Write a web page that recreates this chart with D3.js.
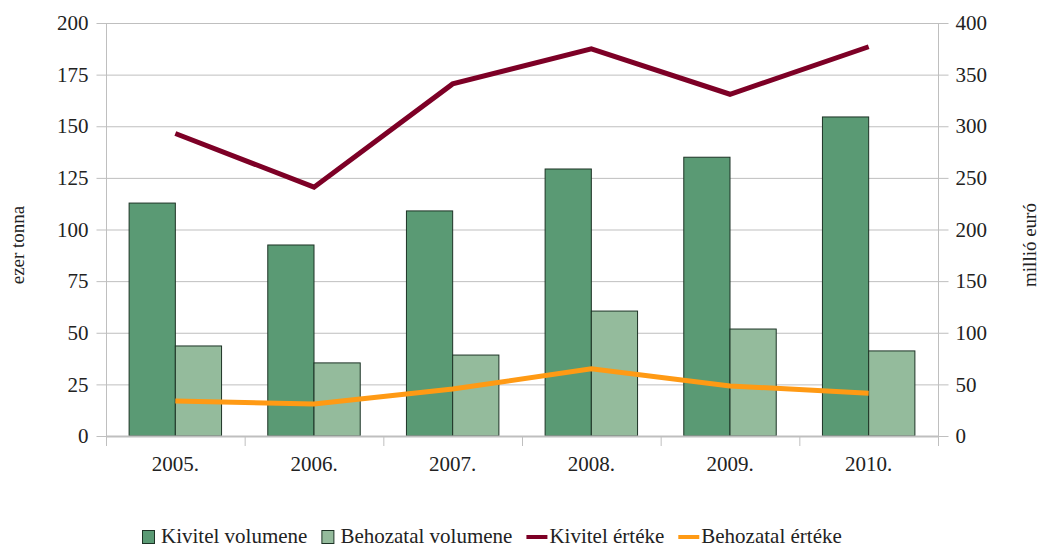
<!DOCTYPE html>
<html><head><meta charset="utf-8">
<script src="https://cdn.jsdelivr.net/npm/d3@7"></script>
<style>body{margin:0;background:#fff;}</style>
</head><body>
<svg id="c" width="1039" height="548" font-family="Liberation Serif"></svg>
<script>
const years = ["2005.","2006.","2007.","2008.","2009.","2010."];
const kivitelVolumen = [112.8, 92.5, 109, 129.3, 135, 154.5];
const behozatalVolumen = [43.6, 35.4, 39.2, 60.5, 51.8, 41.2];
const kivitelErtek = [293, 241, 341, 375, 331, 377];
const behozatalErtek = [34, 31, 45.5, 65, 48.5, 41.5];
const leftTicks = [0,25,50,75,100,125,150,175,200];
const rightTicks = [0,50,100,150,200,250,300,350,400];
const seriesNames = ["Kivitel volumene","Behozatal volumene","Kivitel értéke","Behozatal értéke"];
const colors = {kv:"#5a9a74", bv:"#94bb9c", ke:"#7d0026", be:"#ff9a14"};
const FONT = "Liberation Serif";

const svg = d3.select("#c");
const L=106, R=938, T=23, B=436;
const x = d3.scaleBand().domain(years).range([L,R]).paddingInner(0).paddingOuter(0);
const yL = d3.scaleLinear().domain([0,200]).range([B,T]);
const yR = d3.scaleLinear().domain([0,400]).range([B,T]);
const grid="#bfbfbf";

svg.append("g").selectAll("line").data(leftTicks.slice(1)).join("line")
  .attr("x1",L).attr("x2",R).attr("y1",d=>yL(d)+0.5).attr("y2",d=>yL(d)+0.5)
  .attr("stroke",grid).attr("stroke-width",1);

const gl = svg.append("g").attr("transform",`translate(${L+0.5},0)`)
  .call(d3.axisLeft(yL).tickValues(leftTicks).tickSize(10).tickPadding(8));
gl.attr("font-size",21);
gl.select(".domain").attr("stroke",grid).attr("d",`M0,${T}V${B+10}`);
gl.selectAll(".tick line").attr("stroke",grid);
gl.selectAll("text").attr("fill","#222");

const gr = svg.append("g").attr("transform",`translate(${R+0.5},0)`)
  .call(d3.axisRight(yR).tickValues(rightTicks).tickSize(10).tickPadding(7));
gr.attr("font-size",21);
gr.select(".domain").attr("stroke",grid).attr("d",`M0,${T}V${B+10}`);
gr.selectAll(".tick line").attr("stroke",grid);
gr.selectAll("text").attr("fill","#222");

const bw = x.bandwidth()/3;
const g = svg.append("g");
g.selectAll("rect.kv").data(years).join("rect").attr("class","kv")
  .attr("x",(d)=>x(d)+bw/2).attr("width",bw)
  .attr("y",(d,i)=>yL(kivitelVolumen[i])).attr("height",(d,i)=>B-yL(kivitelVolumen[i]))
  .attr("fill",colors.kv).attr("stroke","#1d3326").attr("stroke-width",1);
g.selectAll("rect.bv").data(years).join("rect").attr("class","bv")
  .attr("x",(d)=>x(d)+bw/2+bw).attr("width",bw)
  .attr("y",(d,i)=>yL(behozatalVolumen[i])).attr("height",(d,i)=>B-yL(behozatalVolumen[i]))
  .attr("fill",colors.bv).attr("stroke","#1d3326").attr("stroke-width",1);

const gx = svg.append("g").attr("transform",`translate(0,${B+0.5})`)
  .call(d3.axisBottom(x).tickSize(0).tickPadding(20));
gx.attr("font-size",21);
gx.select(".domain").attr("stroke",grid).attr("stroke-width",2).attr("d",`M${L},0H${R}`);
gx.selectAll("text").attr("fill","#222");
svg.append("g").selectAll("line").data(years.slice(1)).join("line")
  .attr("x1",d=>x(d)+0.5).attr("x2",d=>x(d)+0.5).attr("y1",B).attr("y2",B+10)
  .attr("stroke",grid);

const cx = d=>x(d)+x.bandwidth()/2;
const lineR = d3.line().x((d,i)=>cx(years[i])).y(d=>yR(d));
svg.append("path").datum(kivitelErtek).attr("d",lineR).attr("fill","none")
  .attr("stroke",colors.ke).attr("stroke-width",5).attr("stroke-linejoin","miter");
svg.append("path").datum(behozatalErtek).attr("d",lineR).attr("fill","none")
  .attr("stroke",colors.be).attr("stroke-width",5).attr("stroke-linejoin","miter");

svg.append("text").attr("transform","translate(24,245) rotate(-90)").attr("text-anchor","middle")
  .attr("font-size",19).attr("fill","#222").text("ezer tonna");
svg.append("text").attr("transform","translate(1036,245) rotate(-90)").attr("text-anchor","middle")
  .attr("font-size",19).attr("fill","#222").text("millió euró");

// legend
const lg = svg.append("g").attr("transform","translate(142,537)");
const items = seriesNames.map((name,i)=>{
  const it = lg.append("g");
  let sw;
  if(i<2){
    it.append("rect").attr("x",0.5).attr("y",-6.5).attr("width",12).attr("height",13)
      .attr("fill",i===0?colors.kv:colors.bv).attr("stroke","#1d3326");
    sw = 19;
  } else {
    it.append("line").attr("x1",0).attr("x2",21).attr("y1",0).attr("y2",0)
      .attr("stroke",i===2?colors.ke:colors.be).attr("stroke-width",4);
    sw = 23;
  }
  const t = it.append("text").attr("x",sw).attr("y",6)
    .attr("font-family",FONT).attr("font-size",21).attr("fill","#222").text(name);
  return {it, t, sw};
});

svg.selectAll("text").style("font-family", FONT, "important");

let xpos = 0;
items.forEach(({it,t,sw})=>{
  it.attr("transform",`translate(${xpos},0)`);
  xpos += sw + t.node().getComputedTextLength() + 14;
});
</script>
</body></html>
